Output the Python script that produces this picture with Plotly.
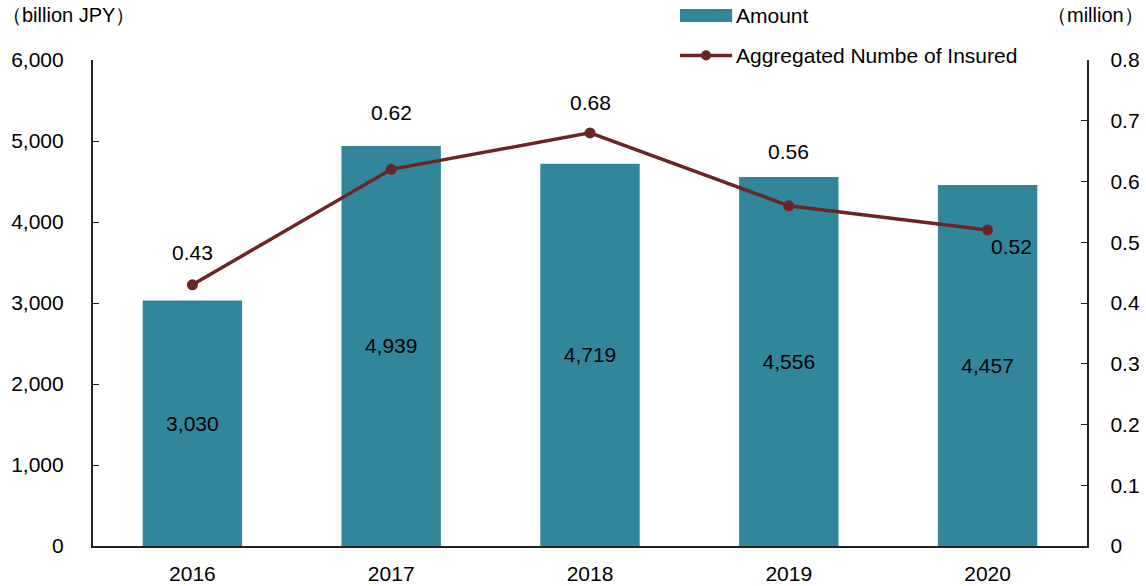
import plotly.graph_objects as go

years = [2016, 2017, 2018, 2019, 2020]
amount = [3030, 4939, 4719, 4556, 4457]
insured = [0.43, 0.62, 0.68, 0.56, 0.52]
bar_labels = ["3,030", "4,939", "4,719", "4,556", "4,457"]
line_labels = ["0.43", "0.62", "0.68", "0.56", "0.52"]
legend_names = ["Amount", "Aggregated Numbe of Insured"]

# label offsets (style)
label_yshift = [32, 57, 30, 54, -16]
label_xshift = [0, 0, 0, 0, 24]

BAR_COLOR = "#31869C"
LINE_COLOR = "#6B2526"
FONT = "Liberation Sans, Arial, sans-serif"
FS = 21
NB = "\u00a0"

fig = go.Figure()
fig.add_trace(go.Bar(
    x=years, y=amount, name=legend_names[0], marker_color=BAR_COLOR,
    text=bar_labels, textposition="inside", insidetextanchor="middle",
    textfont=dict(color="black", size=FS, family=FONT),
))
fig.add_trace(go.Scatter(
    x=years, y=insured, name=legend_names[1], yaxis="y2",
    mode="lines+markers", line=dict(color=LINE_COLOR, width=3.5),
    marker=dict(color=LINE_COLOR, size=11),
))

for i, (yr, v) in enumerate(zip(years, insured)):
    fig.add_annotation(x=yr, y=v, xref="x", yref="y2", text=line_labels[i],
                       showarrow=False, yshift=label_yshift[i], xshift=label_xshift[i],
                       font=dict(size=FS, color="black", family=FONT))

# axis unit titles
fig.add_annotation(x=0, y=1, xref="paper", yref="paper", xanchor="left", yanchor="middle",
                   xshift=-93, yshift=45, text="（billion JPY）", showarrow=False,
                   font=dict(size=20, color="black", family=FONT))
fig.add_annotation(x=1, y=1, xref="paper", yref="paper", xanchor="right", yanchor="middle",
                   xshift=59, yshift=45, text="（million）", showarrow=False,
                   font=dict(size=20, color="black", family=FONT))

# manual legend (paper coords)
LX0, LX1 = 0.5905, 0.643  # swatch span
fig.add_shape(type="rect", xref="paper", yref="paper", x0=LX0, x1=LX1,
              y0=1.105, y1=1.078, fillcolor=BAR_COLOR, line_width=0)
fig.add_shape(type="line", xref="paper", yref="paper", x0=LX0, x1=LX1,
              y0=1.0095, y1=1.0095, line=dict(color=LINE_COLOR, width=3.5))
fig.add_shape(type="circle", xref="paper", yref="paper",
              x0=(LX0 + LX1) / 2 - 0.005, x1=(LX0 + LX1) / 2 + 0.005,
              y0=1.0095 - 0.0105, y1=1.0095 + 0.0105,
              fillcolor=LINE_COLOR, line_width=0)
fig.add_annotation(x=LX1, y=1.0915, xref="paper", yref="paper", xanchor="left",
                   yanchor="middle", xshift=2, text=legend_names[0], showarrow=False,
                   font=dict(size=FS, color="black", family=FONT))
fig.add_annotation(x=LX1, y=1.0095, xref="paper", yref="paper", xanchor="left",
                   yanchor="middle", xshift=2, text=legend_names[1], showarrow=False,
                   font=dict(size=FS, color="black", family=FONT))

axis_common = dict(showline=True, linecolor="#222", linewidth=1.5, ticks="inside",
                   ticklen=6, tickcolor="#222", showgrid=False, zeroline=False,
                   automargin=False,
                   tickfont=dict(size=FS, color="black", family=FONT))

fig.update_layout(
    template="none",
    width=1146, height=586,
    margin=dict(l=93, r=59, t=60, b=40, autoexpand=False),
    paper_bgcolor="white", plot_bgcolor="white",
    font=dict(family=FONT, size=FS, color="black"),
    bargap=0.5,
    showlegend=False,
    xaxis=dict(type="linear", range=[years[0] - 0.5, years[-1] + 0.5], dtick=1,
               tickformat="d", showline=True, linecolor="#222", linewidth=1.5,
               ticks="outside", ticklen=8, tickcolor="rgba(0,0,0,0)",
               showgrid=False, zeroline=False, automargin=False,
               tickfont=dict(size=FS, color="black", family=FONT)),
    yaxis=dict(range=[0, 6000], dtick=1000, tickformat=",", ticksuffix=NB * 4,
               **axis_common),
    yaxis2=dict(range=[0, 0.8], dtick=0.1, overlaying="y", side="right",
                tickprefix=NB * 3, **axis_common),
)

fig.write_html("out.html", config={"displayModeBar": False},
               post_script="document.body.style.margin='0';")
